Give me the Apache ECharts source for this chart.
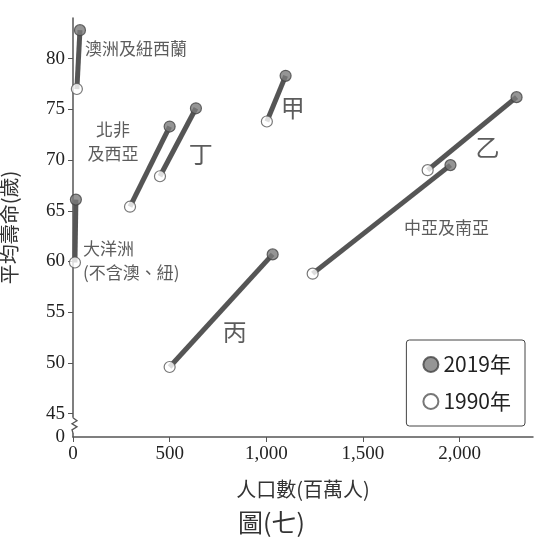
<!DOCTYPE html>
<html><head><meta charset="utf-8">
<script src="https://cdn.jsdelivr.net/npm/echarts@6/dist/echarts.min.js"></script>
<style>html,body{margin:0;padding:0;background:#fff}#c{width:543px;height:548px}</style>
</head><body><div id="c"></div>
<script>
const regions = ['澳洲及紐西蘭','北非及西亞','丁','甲','乙','中亞及南亞','丙','大洋洲'];
const pop1990 = [20, 295, 450, 1003, 1835, 1240, 500, 10];
const life1990 = [77.0, 65.4, 68.4, 73.8, 69.0, 58.8, 49.6, 59.9];
const pop2019 = [36, 500, 636, 1100, 2295, 1953, 1033, 15];
const life2019 = [82.8, 73.3, 75.1, 78.3, 76.2, 69.5, 60.7, 66.1];
const labelText = ['澳洲及紐西蘭','北非\n及西亞','丁','甲','乙','中亞及南亞','大洋洲\n(不含澳、紐)','丙'];
const labelX = [62, 207, 661, 1137, 2145, 1933, 52, 837];
const labelY = [81.0, 71.8, 70.6, 75.1, 71.3, 63.3, 60.1, 53.1];
const labelBig = [false,false,true,true,true,false,false,true];
const labelAlign = ['left','center','center','center','center','center','left','center'];
const yTicks = [45,50,55,60,65,70,75,80];
const xTicks = [0,500,1000,1500,2000];
const yMin = 42.7;

const chart = echarts.init(document.getElementById('c'));
const series = [];
regions.forEach((r,i)=>{
  series.push({type:'line', name:'seg'+i, data:[[pop1990[i],life1990[i]],[pop2019[i],life2019[i]]],
    symbol:'none', lineStyle:{color:'#555',width:5}, silent:true, z:2});
});
series.push({type:'scatter', name:'2019年', data:pop2019.map((x,i)=>[x,life2019[i]]), symbolSize:11,
  itemStyle:{color:'#7a7a7a',borderColor:'#444',borderWidth:1.2}, z:3});
series.push({type:'scatter', name:'1990年', data:pop1990.map((x,i)=>[x,life1990[i]]), symbolSize:11,
  itemStyle:{color:'#fff',borderColor:'#555',borderWidth:1.2}, z:3});
series.push({type:'scatter', name:'labels', symbolSize:0, silent:true, z:4,
  data:labelText.map((t,i)=>({value:[labelX[i],labelY[i]], label:{show:true, formatter:t, position:'inside',
    align:labelAlign[i], verticalAlign:'middle', fontSize:labelBig[i]?24:17, lineHeight:labelBig[i]?26:24,
    color:'#333', fontFamily:'Noto Sans CJK TC'}}))});

const title = {type:'text', left:'center', top:510, style:{text:'圖(七)', fontSize:25, fill:'#333', fontFamily:'Noto Sans CJK TC'}};
chart.setOption({
  animation:false,
  grid:{left:73,right:10,top:18,bottom:111,outerBoundsMode:'none',containLabel:false},
  legend:{data:['2019年','1990年'], orient:'vertical', right:18, bottom:122, itemWidth:15, itemHeight:15, itemGap:16,
    padding:[14,14,14,16], borderColor:'#444', borderWidth:1, borderRadius:3,
    textStyle:{fontSize:21, color:'#222', fontFamily:'Noto Sans CJK TC'}},
  xAxis:{type:'value', min:0, max:2380, name:'人口數(百萬人)', nameLocation:'middle', nameGap:42,
    nameTextStyle:{fontSize:20,color:'#333',fontFamily:'Noto Sans CJK TC'},
    axisLine:{lineStyle:{color:'#555',width:1.5}}, splitLine:{show:false},
    axisTick:{show:true,length:5,customValues:xTicks,lineStyle:{color:'#555'}},
    axisLabel:{customValues:xTicks, fontSize:19, color:'#222', fontFamily:'Liberation Serif',
      formatter:v=>v.toLocaleString('en-US')}},
  yAxis:{type:'value', min:yMin, max:84, name:'平均壽命(歲)', nameLocation:'middle', nameGap:54, nameRotate:90,
    nameTextStyle:{fontSize:20,color:'#333',fontFamily:'Noto Sans CJK TC'},
    axisLine:{show:true,lineStyle:{color:'#555',width:1.5}}, splitLine:{show:false},
    axisTick:{show:true,length:5,customValues:yTicks,lineStyle:{color:'#555'}},
    axisLabel:{customValues:[yMin].concat(yTicks), fontSize:19, color:'#222', fontFamily:'Liberation Serif',
      formatter:v=>Math.abs(v-yMin)<0.01?'0':String(v)}},
  graphic:[title],
  series:series
});
const pTop = chart.convertToPixel({gridIndex:0},[0,44.6]);
const pBot = chart.convertToPixel({gridIndex:0},[0,43.1]);
const x0 = pTop[0], yt = pTop[1], yb = pBot[1];
const n = 5, pts = [[x0,yt]];
for(let k=1;k<n;k++){pts.push([x0+(k%2?4:-1), yt+(yb-yt)*k/n]);}
pts.push([x0,yb]);
chart.setOption({graphic:[title,
  {type:'rect', shape:{x:x0-2,y:yt,width:4,height:yb-yt}, style:{fill:'#fff'}, z:100},
  {type:'polyline', shape:{points:pts}, style:{stroke:'#555',lineWidth:1.3,fill:null}, z:101}]});
</script></body></html>
